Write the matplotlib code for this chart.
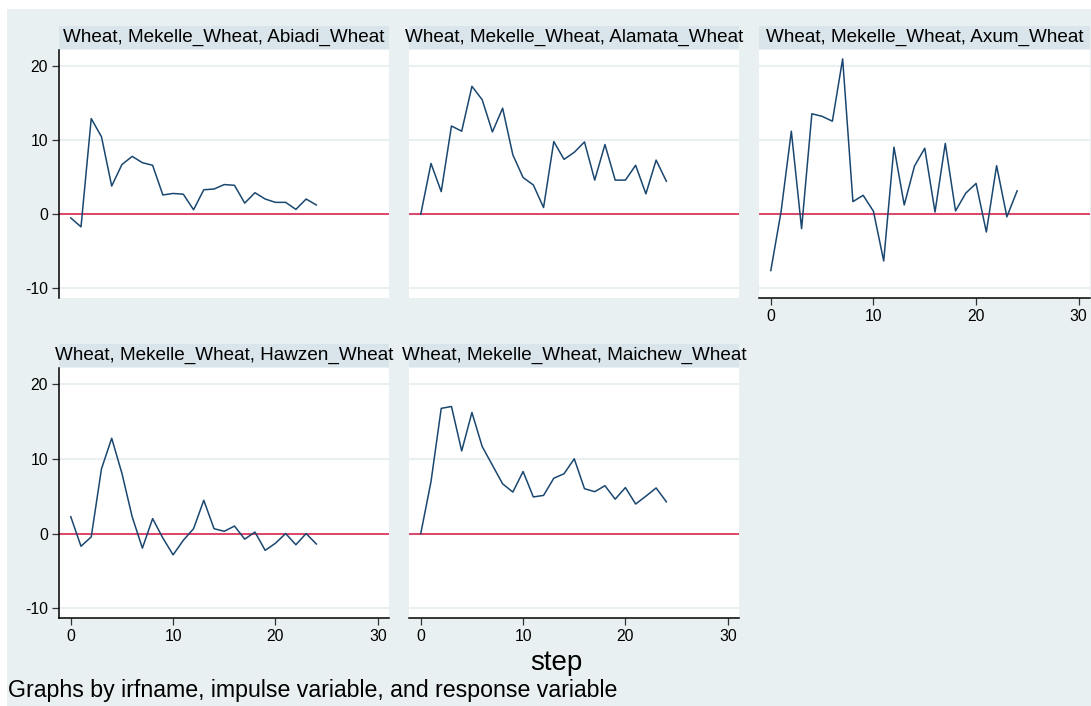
import matplotlib
matplotlib.use("Agg")
import matplotlib.pyplot as plt
from matplotlib.patches import Rectangle

plt.rcParams['font.family'] = ['Liberation Sans', 'DejaVu Sans']

# impulse-response values, step 0..24
steps = list(range(25))
abiadi = [-0.5, -1.7, 12.9, 10.45, 3.8, 6.7, 7.8, 6.95, 6.6, 2.6, 2.8, 2.7, 0.6,
          3.3, 3.4, 4.0, 3.9, 1.5, 2.9, 2.05, 1.6, 1.6, 0.65, 2.05, 1.25]
alamata = [0.0, 6.85, 3.05, 11.9, 11.2, 17.25, 15.45, 11.1, 14.3, 8.0, 4.95, 3.95, 0.9,
           9.8, 7.4, 8.35, 9.75, 4.6, 9.4, 4.6, 4.6, 6.6, 2.75, 7.3, 4.45]
axum = [-7.6, 0.35, 11.2, -1.95, 13.55, 13.2, 12.55, 20.95, 1.7, 2.55, 0.4, -6.3, 9.05,
        1.25, 6.5, 8.9, 0.3, 9.55, 0.45, 2.85, 4.15, -2.4, 6.55, -0.35, 3.15]
hawzen = [2.25, -1.7, -0.45, 8.65, 12.75, 8.05, 2.25, -1.95, 2.0, -0.6, -2.85, -0.9, 0.65,
          4.45, 0.65, 0.3, 1.0, -0.75, 0.2, -2.25, -1.3, 0.0, -1.5, 0.0, -1.4]
maichew = [0.0, 6.95, 16.75, 17.0, 11.05, 16.2, 11.65, 9.15, 6.65, 5.55, 8.3, 4.9, 5.1,
           7.4, 8.0, 10.0, 6.0, 5.6, 6.4, 4.6, 6.15, 3.95, 5.0, 6.1, 4.25]

titles = ["Wheat, Mekelle_Wheat, Abiadi_Wheat", "Wheat, Mekelle_Wheat, Alamata_Wheat",
          "Wheat, Mekelle_Wheat, Axum_Wheat", "Wheat, Mekelle_Wheat, Hawzen_Wheat",
          "Wheat, Mekelle_Wheat, Maichew_Wheat"]
series = [abiadi, alamata, axum, hawzen, maichew]
yticks = [-10, 0, 10, 20]
xticks = [0, 10, 20, 30]

W, H = 1091, 706
BG = '#e9f0f2'
BAR = '#d9e5eb'
NAVY = '#1a476f'
RED = '#d6254d'

fig = plt.figure(figsize=(W / 100, H / 100), dpi=100, facecolor='white')
fig.add_artist(Rectangle((7 / W, 0), 1, (H - 9) / H, transform=fig.transFigure,
                         facecolor=BG, edgecolor='none', zorder=-10))

# panel boxes in pixels: left, top, right, bottom
cols = [(59, 389), (409, 739), (759, 1090)]
rows = [(50, 298), (368, 618)]
layout = [(0, 0), (0, 1), (0, 2), (1, 0), (1, 1)]

for i, (r, c) in enumerate(layout):
    x0, x1 = cols[c]
    y0, y1 = rows[r]
    ax = fig.add_axes([x0 / W, 1 - y1 / H, (x1 - x0) / W, (y1 - y0) / H])
    ax.set_facecolor('white')
    ax.set_xlim(-1.15, 31.1)
    ax.set_ylim(-11.3, 22.15)
    for yv in yticks:
        if yv != 0:
            ax.axhline(yv, color=BG, lw=1.5, zorder=1)
    ax.axhline(0, color=RED, lw=1.2, zorder=2)
    ax.plot(steps, series[i], color=NAVY, lw=1.1, zorder=3)

    show_y = c == 0
    show_x = r == 1 or i == 2
    for s in ['top', 'right']:
        ax.spines[s].set_visible(False)
    ax.spines['left'].set_visible(show_y)
    ax.spines['bottom'].set_visible(show_x)
    ax.spines['left'].set_linewidth(1.1)
    ax.spines['bottom'].set_linewidth(1.1)
    ax.set_yticks(yticks if show_y else [])
    ax.set_xticks(xticks if show_x else [])
    ax.tick_params(labelsize=11.3, length=5, width=0.9, pad=3, color='#333333')
    if show_y:
        ax.set_yticklabels([str(v) for v in yticks])

    # title bar
    fig.add_artist(Rectangle((x0 / W, 1 - (y0 - 1) / H), (x1 - x0) / W, 23 / H,
                             transform=fig.transFigure, facecolor=BAR, edgecolor='none',
                             zorder=-5))
    fig.text((x0 + x1) / 2 / W, 1 - (y0 - 12.5) / H, titles[i], ha='center', va='center',
             fontsize=13.6, color='black')

fig.text(556 / W, 1 - 663 / H, "step", ha='center', va='center', fontsize=20)
fig.text(8 / W, 1 - 690 / H, "Graphs by irfname, impulse variable, and response variable",
         ha='left', va='center', fontsize=16.7)

fig.savefig("out.png", dpi=100, facecolor=fig.get_facecolor())
